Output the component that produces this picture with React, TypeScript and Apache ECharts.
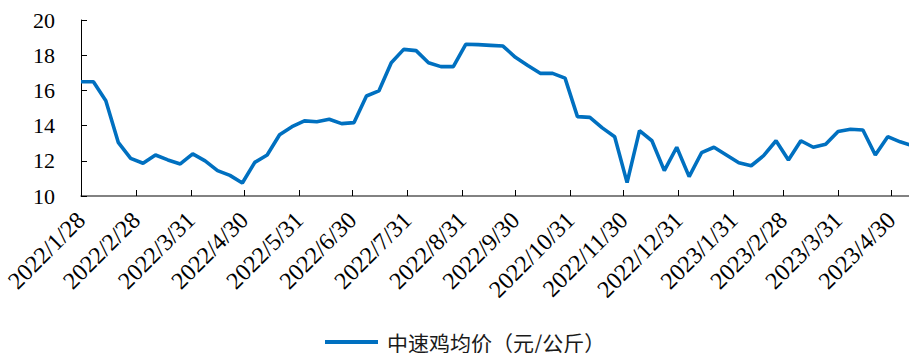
import React, { useEffect, useRef } from "react";
import * as echarts from "echarts";

const seriesName = "中速鸡均价（元/公斤）";

const dates: string[] = [
  "2022/1/28", "2022/2/4", "2022/2/11", "2022/2/18", "2022/2/25",
  "2022/3/4", "2022/3/11", "2022/3/18", "2022/3/25",
  "2022/4/1", "2022/4/8", "2022/4/15", "2022/4/22", "2022/4/29",
  "2022/5/6", "2022/5/13", "2022/5/20", "2022/5/27",
  "2022/6/3", "2022/6/10", "2022/6/17", "2022/6/24",
  "2022/7/1", "2022/7/8", "2022/7/15", "2022/7/22", "2022/7/29",
  "2022/8/5", "2022/8/12", "2022/8/19", "2022/8/26",
  "2022/9/2", "2022/9/9", "2022/9/16", "2022/9/23", "2022/9/30",
  "2022/10/7", "2022/10/14", "2022/10/21", "2022/10/28",
  "2022/11/4", "2022/11/11", "2022/11/18", "2022/11/25",
  "2022/12/2", "2022/12/9", "2022/12/16", "2022/12/23", "2022/12/30",
  "2023/1/6", "2023/1/13", "2023/1/20", "2023/1/27",
  "2023/2/3", "2023/2/10", "2023/2/17", "2023/2/24",
  "2023/3/3", "2023/3/10", "2023/3/17", "2023/3/24", "2023/3/31",
  "2023/4/7", "2023/4/14", "2023/4/21", "2023/4/28",
  "2023/5/5", "2023/5/12",
];

const prices: number[] = [
  16.49, 16.49, 15.41, 13.05, 12.14, 11.86, 12.33, 12.05, 11.82, 12.39,
  12.0, 11.44, 11.17, 10.74, 11.91, 12.33, 13.48, 13.94, 14.27, 14.22,
  14.36, 14.11, 14.17, 15.68, 15.97, 17.57, 18.33, 18.26, 17.57, 17.35,
  17.35, 18.62, 18.6, 18.56, 18.52, 17.88, 17.41, 16.97, 16.97, 16.7,
  14.51, 14.47, 13.87, 13.37, 10.76, 13.71, 13.14, 11.44, 12.77, 11.1,
  12.46, 12.77, 12.33, 11.89, 11.72, 12.29, 13.14, 12.05, 13.14, 12.77,
  12.94, 13.66, 13.79, 13.75, 12.33, 13.37, 13.08, 12.85,
];

const xTickLabels: string[] = [
  "2022/1/28", "2022/2/28", "2022/3/31", "2022/4/30", "2022/5/31",
  "2022/6/30", "2022/7/31", "2022/8/31", "2022/9/30", "2022/10/31",
  "2022/11/30", "2022/12/31", "2023/1/31", "2023/2/28", "2023/3/31",
  "2023/4/30",
];

const xMin = "2022/1/28";
const xMax = "2023/5/10";
const yMin = 10;
const yMax = 20;
const yInterval = 2;

const DAY = 86400000;

function toDay(s: string): number {
  const [y, m, d] = s.split("/").map(Number);
  const [y0, m0, d0] = xMin.split("/").map(Number);
  return Math.round((Date.UTC(y, m - 1, d) - Date.UTC(y0, m0 - 1, d0)) / DAY);
}

function fmt(v: number): string {
  const [y0, m0, d0] = xMin.split("/").map(Number);
  const d = new Date(Date.UTC(y0, m0 - 1, d0) + Math.round(v) * DAY);
  return `${d.getUTCFullYear()}/${d.getUTCMonth() + 1}/${d.getUTCDate()}`;
}

const serif = "'Liberation Serif', 'Times New Roman', serif";

export default function App() {
  const ref = useRef<HTMLDivElement>(null);
  useEffect(() => {
    if (!ref.current) return;
    const chart = echarts.init(ref.current, undefined, { renderer: "svg" });
    const tickVals = xTickLabels.map(toDay);
    chart.setOption({
      animation: false,
      backgroundColor: "#ffffff",
      grid: { left: 81, right: 0, top: 20, bottom: 157, containLabel: false },
      legend: {
        show: true,
        left: 325,
        top: 331,
        padding: 0,
        icon: "rect",
        itemWidth: 53,
        itemHeight: 4,
        itemGap: 10,
        textStyle: {
          fontFamily: "'Noto Sans CJK SC', sans-serif",
          fontSize: 21,
          lineHeight: 22,
          color: "#1a1a1a",
          padding: [0, 0, 0, 4],
        },
        data: [seriesName],
      },
      xAxis: {
        type: "value",
        min: toDay(xMin),
        max: toDay(xMax),
        splitLine: { show: false },
        axisLine: { show: true, lineStyle: { color: "#595959", width: 1.5 } },
        axisTick: {
          show: true,
          inside: true,
          length: 6,
          customValues: tickVals,
          lineStyle: { color: "#000", width: 1 },
        },
        axisLabel: {
          show: true,
          customValues: tickVals,
          rotate: 45,
          margin: 20,
          fontFamily: serif,
          fontSize: 24,
          color: "#000",
          formatter: (v: number) => fmt(v),
        },
      },
      yAxis: {
        type: "value",
        min: yMin,
        max: yMax,
        interval: yInterval,
        splitLine: { show: false },
        axisLine: { show: true, lineStyle: { color: "#000", width: 1 } },
        axisTick: { show: true, inside: true, length: 6, lineStyle: { color: "#000" } },
        axisLabel: {
          margin: 26,
          fontFamily: serif,
          fontSize: 22,
          color: "#000",
        },
      },
      series: [
        {
          name: seriesName,
          type: "line",
          data: dates.map((d, i) => [toDay(d), prices[i]]),
          showSymbol: false,
          symbol: "none",
          clip: true,
          lineStyle: { color: "#0070C0", width: 3.6 },
          itemStyle: { color: "#0070C0" },
        },
      ],
    });
    return () => chart.dispose();
  }, []);
  return (
    <div
      ref={ref}
      style={{ position: "absolute", left: 0, top: 0, width: 909, height: 353 }}
    />
  );
}
